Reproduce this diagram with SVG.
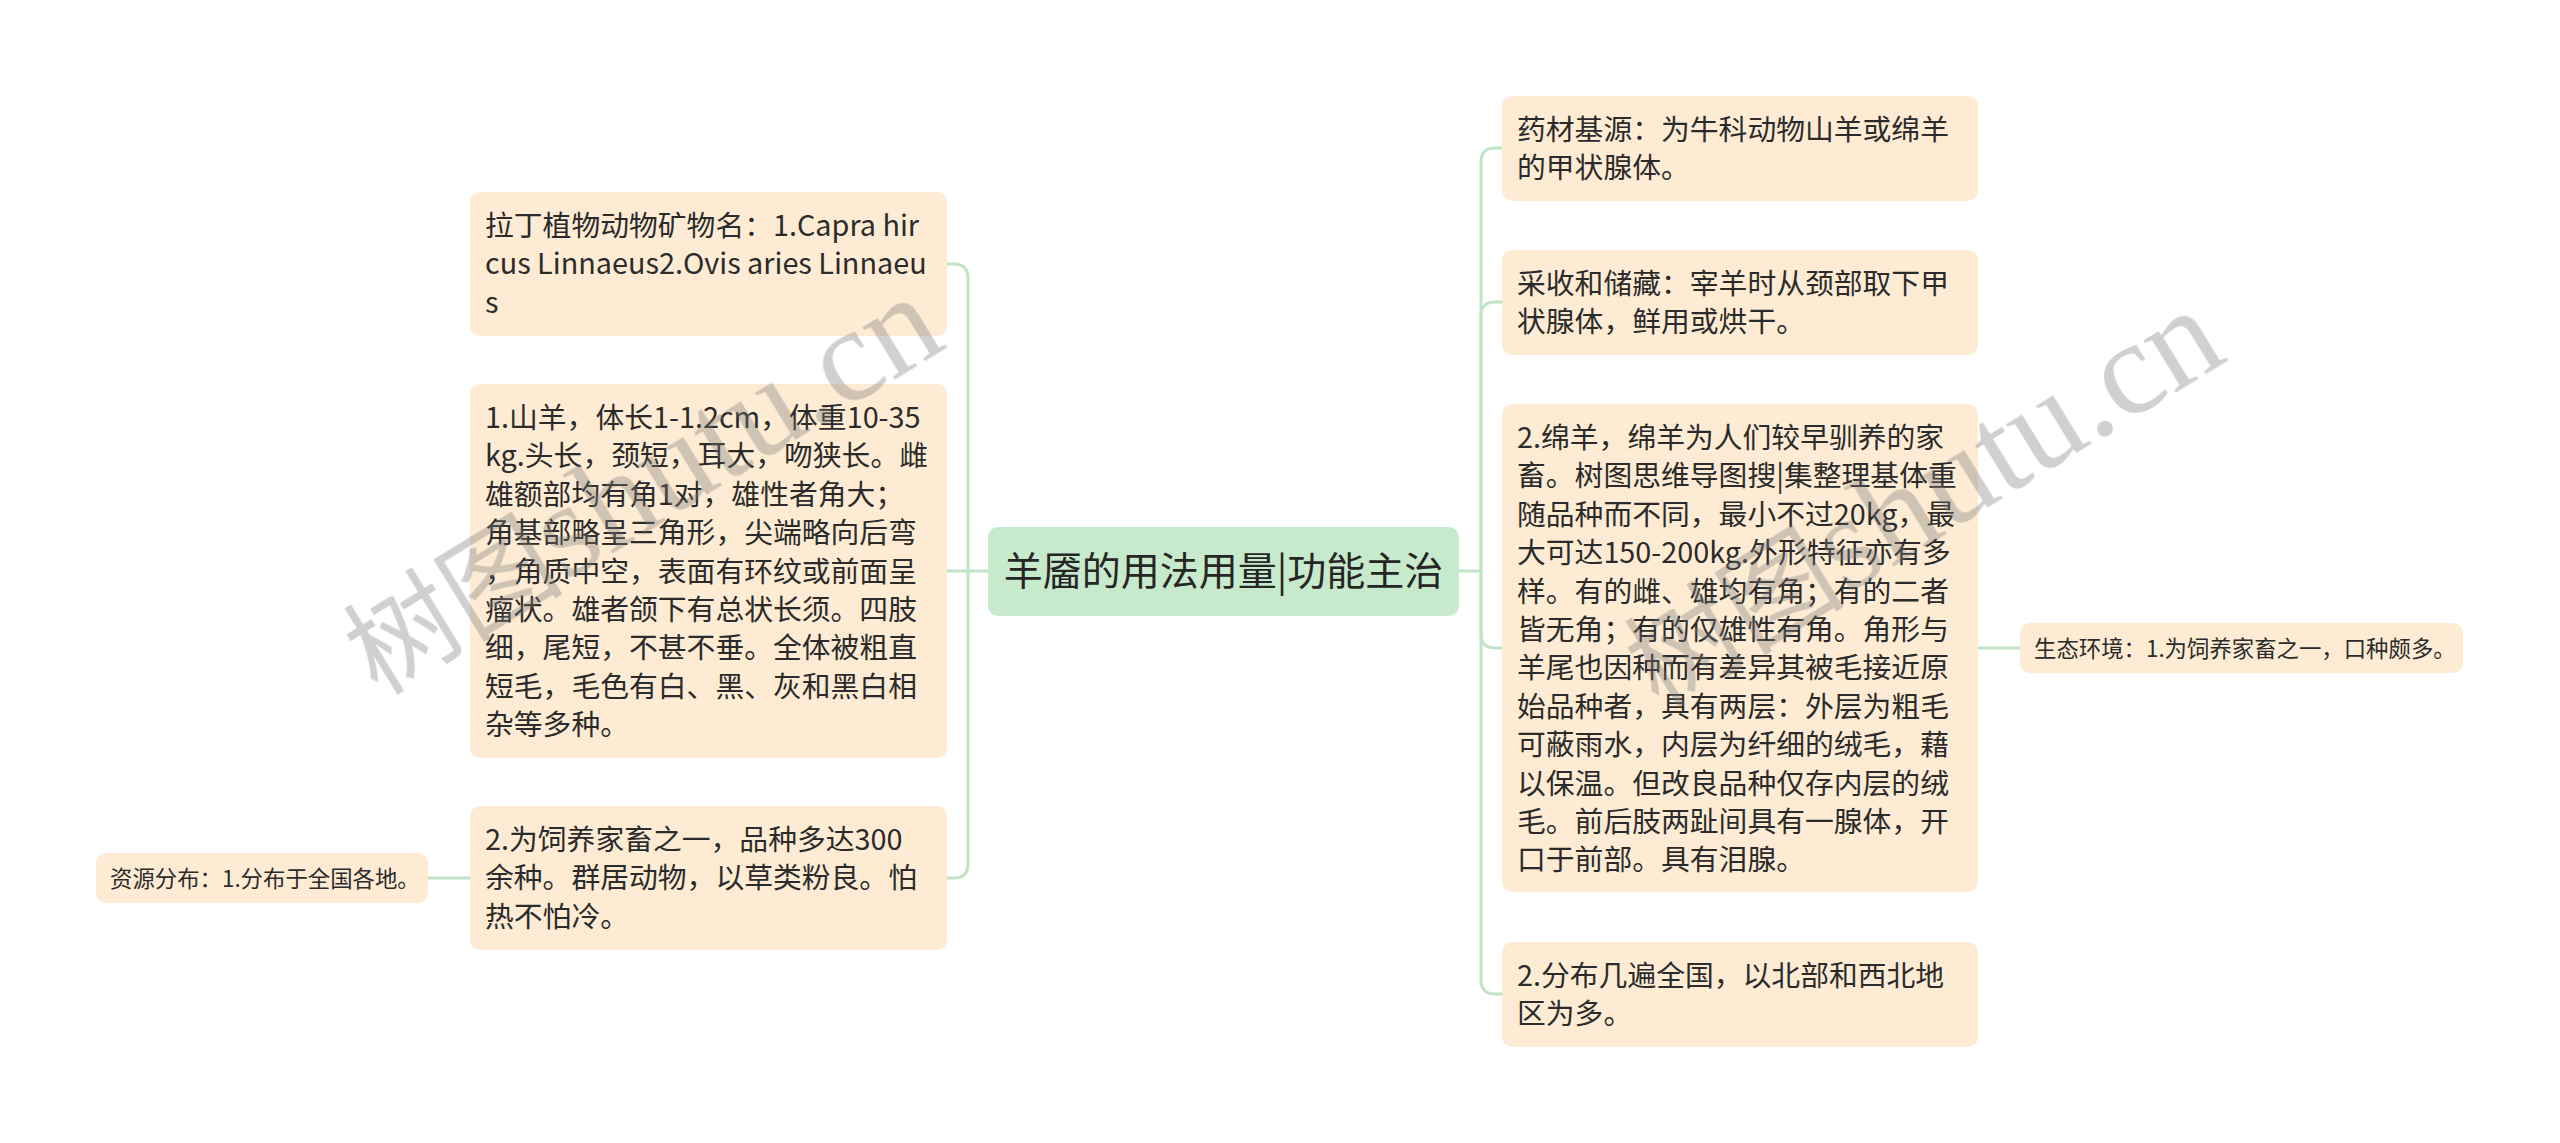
<svg xmlns="http://www.w3.org/2000/svg" width="2560" height="1143" viewBox="0 0 2560 1143">
<style>
.bg{fill:#ffffff}
.node rect{fill:#fdebd4}
.root rect{fill:#c6eacb}
.t{font-family:"Noto Sans CJK SC","Microsoft YaHei",sans-serif;font-size:28.8px;fill:#2b2b2b}
.ts{font-family:"Noto Sans CJK SC","Microsoft YaHei",sans-serif;font-size:22.4px;fill:#2b2b2b}
.tr{font-family:"Noto Sans CJK SC","Microsoft YaHei",sans-serif;font-size:39px;fill:#262626}
.conn path{fill:none;stroke:#bfe5c6;stroke-width:3}
.wm{fill:#7a7a7a;opacity:0.35}
</style>
<rect class="bg" x="0" y="0" width="2560" height="1143"/>
<g id="connectors" class="conn">
<path d="M988 571 H968"/>
<path d="M968 571 V278 Q968 264 954 264 H947"/>
<path d="M968 571 H947"/>
<path d="M968 571 V864 Q968 878 954 878 H947"/>
<path d="M470 878 H428"/>
<path d="M1459 571 H1481"/>
<path d="M1481 571 V162 Q1481 148 1495 148 H1502"/>
<path d="M1481 571 V316 Q1481 302 1495 302 H1502"/>
<path d="M1481 571 V634 Q1481 648 1495 648 H1502"/>
<path d="M1481 571 V980 Q1481 994 1495 994 H1502"/>
<path d="M1978 648 H2020"/>
</g>
<g id="root" class="root">
<rect x="988" y="527" width="471" height="89" rx="10"/>
<text class="tr" x="1223.5" y="585" text-anchor="middle">羊靥的用法用量|功能主治</text>
</g>
<g id="n-latin" class="node">
<rect x="470" y="192" width="477" height="144" rx="10"/>
<text class="t" x="485" y="236">拉丁植物动物矿物名：1.Capra hir</text>
<text class="t" x="485" y="274.4">cus Linnaeus2.Ovis aries Linnaeu</text>
<text class="t" x="485" y="312.8">s</text>
</g>
<g id="n-goat" class="node">
<rect x="470" y="384" width="477" height="374" rx="10"/>
<text class="t" x="485" y="428">1.山羊，体长1-1.2cm，体重10-35</text>
<text class="t" x="485" y="466.4">kg.头长，颈短，耳大，吻狭长。雌</text>
<text class="t" x="485" y="504.8">雄额部均有角1对，雄性者角大；</text>
<text class="t" x="485" y="543.2">角基部略呈三角形，尖端略向后弯</text>
<text class="t" x="485" y="581.6">，角质中空，表面有环纹或前面呈</text>
<text class="t" x="485" y="620">瘤状。雄者颌下有总状长须。四肢</text>
<text class="t" x="485" y="658.4">细，尾短，不甚不垂。全体被粗直</text>
<text class="t" x="485" y="696.8">短毛，毛色有白、黑、灰和黑白相</text>
<text class="t" x="485" y="735.2">杂等多种。</text>
</g>
<g id="n-livestock" class="node">
<rect x="470" y="806" width="477" height="144" rx="10"/>
<text class="t" x="485" y="850">2.为饲养家畜之一，品种多达300</text>
<text class="t" x="485" y="888.4">余种。群居动物，以草类粉良。怕</text>
<text class="t" x="485" y="926.8">热不怕冷。</text>
</g>
<g id="n-resource" class="node">
<rect x="96" y="853" width="332" height="50" rx="10"/>
<text class="ts" x="110" y="886.5">资源分布：1.分布于全国各地。</text>
</g>
<g id="n-source" class="node">
<rect x="1502" y="96" width="476" height="105" rx="10"/>
<text class="t" x="1517" y="140">药材基源：为牛科动物山羊或绵羊</text>
<text class="t" x="1517" y="178.4">的甲状腺体。</text>
</g>
<g id="n-harvest" class="node">
<rect x="1502" y="250" width="476" height="105" rx="10"/>
<text class="t" x="1517" y="294">采收和储藏：宰羊时从颈部取下甲</text>
<text class="t" x="1517" y="332.4">状腺体，鲜用或烘干。</text>
</g>
<g id="n-sheep" class="node">
<rect x="1502" y="404" width="476" height="488" rx="10"/>
<text class="t" x="1517" y="448">2.绵羊，绵羊为人们较早驯养的家</text>
<text class="t" x="1517" y="486.4">畜。树图思维导图搜|集整理基体重</text>
<text class="t" x="1517" y="524.8">随品种而不同，最小不过20kg，最</text>
<text class="t" x="1517" y="563.2">大可达150-200kg.外形特征亦有多</text>
<text class="t" x="1517" y="601.6">样。有的雌、雄均有角；有的二者</text>
<text class="t" x="1517" y="640">皆无角；有的仅雄性有角。角形与</text>
<text class="t" x="1517" y="678.4">羊尾也因种而有差异其被毛接近原</text>
<text class="t" x="1517" y="716.8">始品种者，具有两层：外层为粗毛</text>
<text class="t" x="1517" y="755.2">可蔽雨水，内层为纤细的绒毛，藉</text>
<text class="t" x="1517" y="793.6">以保温。但改良品种仅存内层的绒</text>
<text class="t" x="1517" y="832">毛。前后肢两趾间具有一腺体，开</text>
<text class="t" x="1517" y="870.4">口于前部。具有泪腺。</text>
</g>
<g id="n-distribution" class="node">
<rect x="1502" y="942" width="476" height="105" rx="10"/>
<text class="t" x="1517" y="986">2.分布几遍全国，以北部和西北地</text>
<text class="t" x="1517" y="1024.4">区为多。</text>
</g>
<g id="n-ecology" class="node">
<rect x="2020" y="623" width="443" height="50" rx="10"/>
<text class="ts" x="2034" y="656.5">生态环境：1.为饲养家畜之一，口种颇多。</text>
</g>
<g id="watermarks" class="wm">
<text transform="translate(378 697) rotate(-31.6)"><tspan font-family="Noto Sans CJK SC,sans-serif" font-size="110">树图</tspan><tspan font-family="Liberation Serif,serif" font-size="134">shutu.cn</tspan></text>
<text transform="translate(1659 710) rotate(-31.6)"><tspan font-family="Noto Sans CJK SC,sans-serif" font-size="110">树图</tspan><tspan font-family="Liberation Serif,serif" font-size="134">shutu.cn</tspan></text>
</g>
</svg>
